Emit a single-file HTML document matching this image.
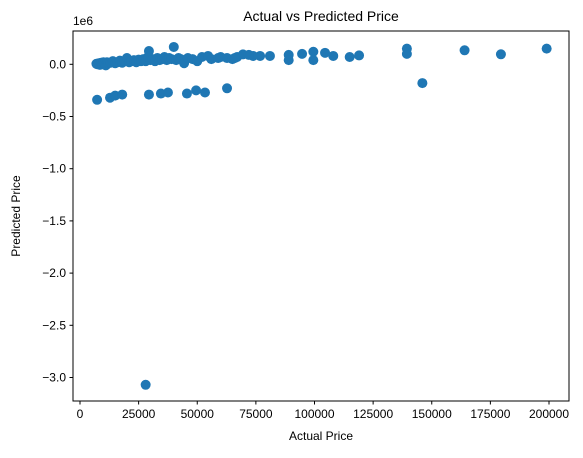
<!DOCTYPE html>
<html><head><meta charset="utf-8"><style>
body{margin:0;background:#fff;}
svg{font-family:"Liberation Sans","DejaVu Sans",sans-serif;}
</style></head><body>
<svg id="chart" width="583" height="453" viewBox="0 0 583 453" xmlns="http://www.w3.org/2000/svg">
<rect width="583" height="453" fill="#fff"/>
<text x="321" y="21" font-size="14" text-anchor="middle">Actual vs Predicted Price</text>
<text x="73" y="25" font-size="12">1e6</text>
<text x="321" y="440" font-size="12" text-anchor="middle">Actual Price</text>
<text x="20" y="216" font-size="12" text-anchor="middle" transform="rotate(-90 20 216)">Predicted Price</text>
<g id="ticks"></g>
<g id="points"></g>
<rect x="73" y="31" width="496" height="370" fill="none" stroke="#000" stroke-width="1"/>
</svg>
<script>
const actual = [7300,12800,15000,18000,29400,34500,37500,45600,49500,53300,62700,28000,
7000,7500,8000,8500,9000,9500,10000,10500,11000,11500,12000,13000,14000,15000,16000,17000,18000,19000,20000,21000,22000,23000,24000,25000,26000,27000,28000,29000,30000,31000,32000,33000,34000,35000,36000,37000,38000,39000,41000,42000,43000,44400,46000,48000,50000,52000,54600,56000,58900,60000,62700,65000,67000,
29400,40000,139400,139400,164000,179500,199000,146000,119000,115000,108000,104500,99500,99500,94700,89000,89000,81000,76800,69500,73800,72000,66000];
const predicted = [-0.34,-0.32,-0.30,-0.29,-0.29,-0.28,-0.27,-0.28,-0.25,-0.27,-0.23,-3.07,
0.005,0.0,0.01,-0.005,0.015,0.0,0.02,0.005,-0.01,0.02,0.01,0.015,0.03,0.01,0.02,0.035,0.015,0.03,0.06,0.02,0.03,0.04,0.02,0.045,0.03,0.05,0.03,0.07,0.04,0.05,0.03,0.06,0.04,0.05,0.07,0.04,0.06,0.05,0.04,0.06,0.05,0.01,0.06,0.05,0.03,0.07,0.08,0.05,0.06,0.07,0.06,0.05,0.07,
0.127,0.166,0.15,0.10,0.134,0.096,0.15,-0.18,0.085,0.07,0.08,0.11,0.12,0.04,0.10,0.09,0.04,0.08,0.08,0.095,0.08,0.09,0.06];
const xTicks = [0,25000,50000,75000,100000,125000,150000,175000,200000];
const yTicks = [0,-0.5,-1.0,-1.5,-2.0,-2.5,-3.0];
const yTickLabels = ["0.0","\u22120.5","\u22121.0","\u22121.5","\u22122.0","\u22122.5","\u22123.0"];

const xs = v => 80 + v/200000*469;
const ys = v => 64.3 - v*104.4;
const NS = "http://www.w3.org/2000/svg";
const tg = document.getElementById('ticks');
xTicks.forEach(t=>{
  const l=document.createElementNS(NS,'line');
  
  
  l.setAttribute('x1',xs(t));l.setAttribute('x2',xs(t));l.setAttribute('y1',401);l.setAttribute('y2',404.5);l.setAttribute('stroke','#000');
  tg.appendChild(l);
  const tx=document.createElementNS(NS,'text');
  
  
  tx.setAttribute('x',xs(t));tx.setAttribute('y',418);tx.setAttribute('font-size','12');tx.setAttribute('text-anchor','middle');
  tx.textContent=t;tg.appendChild(tx);
});
yTicks.forEach((t,i)=>{
  const l=document.createElementNS(NS,'line');
  
  
  l.setAttribute('x1',69.5);l.setAttribute('x2',73);l.setAttribute('y1',ys(t));l.setAttribute('y2',ys(t));l.setAttribute('stroke','#000');
  tg.appendChild(l);
  const tx=document.createElementNS(NS,'text');
  
  
  tx.setAttribute('x',66);tx.setAttribute('y',ys(t)+4);tx.setAttribute('font-size','12');tx.setAttribute('text-anchor','end');
  tx.textContent=yTickLabels[i];tg.appendChild(tx);
});
const pg=document.getElementById('points');
actual.forEach((a,i)=>{
  const c=document.createElementNS(NS,'circle');
  
  
  c.setAttribute('cx',xs(a));c.setAttribute('cy',ys(predicted[i]));c.setAttribute('r',5);c.setAttribute('fill','#1f77b4');
  pg.appendChild(c);
});
</script>
</body></html>
